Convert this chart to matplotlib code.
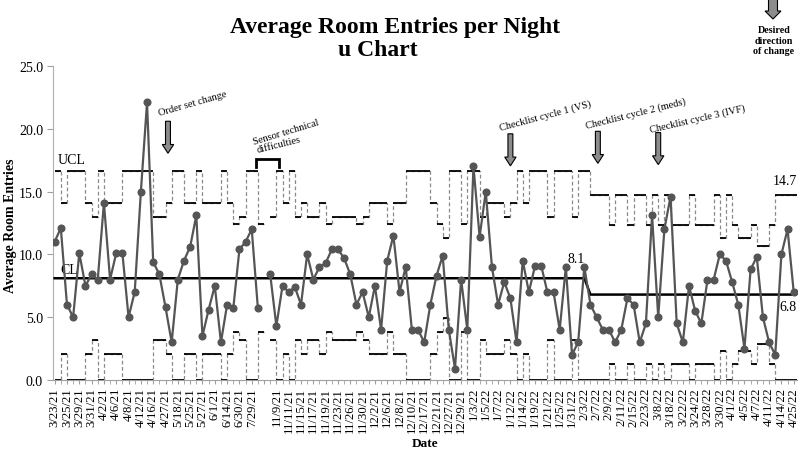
import numpy as np
import matplotlib
matplotlib.use("Agg")
import matplotlib.pyplot as plt
from matplotlib.patches import FancyArrow

# ---------------- data ----------------
tick_labels = ["3/23/21", "3/25/21", "3/29/21", "3/31/21", "4/2/21", "4/6/21", "4/8/21",
               "4/12/21", "4/16/21", "4/27/21", "5/18/21", "5/25/21", "5/27/21", "6/1/21",
               "6/14/21", "6/30/21", "7/29/21", "", "11/9/21", "11/11/21", "11/15/21",
               "11/17/21", "11/19/21", "11/23/21", "11/26/21", "11/30/21", "12/2/21",
               "12/6/21", "12/8/21", "12/10/21", "12/17/21", "12/21/21", "12/27/21",
               "12/29/21", "1/3/22", "1/5/22", "1/7/22", "1/12/22", "1/14/22", "1/19/22",
               "1/21/22", "1/25/22", "1/31/22", "2/3/22", "2/7/22", "2/9/22", "2/11/22",
               "2/15/22", "2/23/22", "3/8/22", "3/18/22", "3/22/22", "3/24/22", "3/28/22",
               "3/30/22", "4/1/22", "4/5/22", "4/7/22", "4/11/22", "4/14/22", "4/25/22"]

room_entries = [11.0, 12.1, 6.0, 5.0, 10.1, 7.5, 8.4, 8.0, 14.1, 8.0,
                10.1, 10.1, 5.0, 7.0, 15.0, 22.1, 9.4, 8.4, 5.8, 3.0,
                8.0, 9.5, 10.6, 13.1, 3.5, 5.6, 7.5, 3.0, 6.0, 5.7,
                10.4, 11.0, 12.0, 5.7, None, 8.4, 4.3, 7.5, 7.0, 7.4,
                6.0, 10.0, 8.0, 9.0, 9.3, 10.4, 10.4, 9.7, 8.4, 6.0,
                7.0, 5.0, 7.5, 4.0, 9.5, 11.5, 7.0, 9.0, 4.0, 4.0,
                3.0, 6.0, 8.3, 9.9, 4.0, 0.9, 8.0, 4.0, 17.0, 11.4,
                15.0, 9.0, 6.0, 7.8, 6.5, 3.0, 9.5, 7.0, 9.1, 9.1,
                7.0, 7.0, 4.0, 9.0, 2.0, 3.0, 9.0, 6.0, 5.0, 4.0,
                4.0, 3.0, 4.0, 6.5, 6.0, 3.0, 4.5, 13.1, 5.0, 12.0,
                14.6, 4.5, 3.0, 7.5, 5.5, 4.5, 8.0, 8.0, 10.0, 9.5,
                7.8, 6.0, 2.5, 8.8, 9.8, 5.0, 3.0, 2.0, 10.0, 12.0,
                7.0]

ucl = [16.6, 14.1, 16.6, 16.6, 16.6, 14.1, 13.0, 16.6, 14.1, 14.1,
       14.1, 16.6, 16.6, 16.6, 16.6, 16.6, 13.0, 13.0, 14.1, 16.6,
       16.6, 14.1, 14.1, 16.6, 14.1, 14.1, 14.1, 16.6, 14.1, 12.4,
       13.0, 16.6, 16.6, 12.4, None, 13.0, 16.6, 14.1, 16.6, 13.0,
       14.1, 13.0, 13.0, 14.1, 12.4, 13.0, 13.0, 13.0, 13.0, 12.4,
       13.0, 14.1, 14.1, 14.1, 12.4, 14.1, 14.1, 16.6, 16.6, 16.6,
       16.6, 14.1, 12.4, 11.3, 16.6, 16.6, 12.4, 16.6, 16.6, 13.0,
       14.1, 14.1, 14.1, 13.0, 14.1, 16.6, 14.1, 16.6, 16.6, 16.6,
       13.0, 16.6, 16.6, 16.6, 13.0, 16.6, 16.6, 14.7, 14.7, 14.7,
       12.3, 14.7, 14.7, 12.3, 14.7, 14.7, 12.3, 14.7, 12.3, 14.7,
       12.3, 12.3, 12.3, 14.7, 12.3, 12.3, 12.3, 14.7, 11.3, 14.7,
       12.3, 11.3, 11.3, 12.3, 10.7, 10.7, 12.3, 14.7, 14.7, 14.7,
       14.7]

lcl = [0.0, 2.1, 0.0, 0.0, 0.0, 2.1, 3.2, 0.0, 2.1, 2.1,
       2.1, 0.0, 0.0, 0.0, 0.0, 0.0, 3.2, 3.2, 2.1, 0.0,
       0.0, 2.1, 2.1, 0.0, 2.1, 2.1, 2.1, 0.0, 2.1, 3.8,
       3.2, 0.0, 0.0, 3.8, None, 3.2, 0.0, 2.1, 0.0, 3.2,
       2.1, 3.2, 3.2, 2.1, 3.8, 3.2, 3.2, 3.2, 3.2, 3.8,
       3.2, 2.1, 2.1, 2.1, 3.8, 2.1, 2.1, 0.0, 0.0, 0.0,
       0.0, 2.1, 3.8, 4.9, 0.0, 0.0, 3.8, 0.0, 0.0, 3.2,
       2.1, 2.1, 2.1, 3.2, 2.1, 0.0, 2.1, 0.0, 0.0, 0.0,
       3.2, 0.0, 0.0, 0.0, 3.2, 0.0, 0.0, 0.0, 0.0, 0.0,
       1.3, 0.0, 0.0, 1.3, 0.0, 0.0, 1.3, 0.0, 1.3, 0.0,
       1.3, 1.3, 1.3, 0.0, 1.3, 1.3, 1.3, 0.0, 2.3, 0.0,
       1.3, 2.3, 2.3, 1.3, 2.9, 2.9, 1.3, 0.0, 0.0, 0.0,
       0.0]

phase_cl = [8.1, 6.8]
phase_len = [87, 34]

# ---------------- figure ----------------
serif = ["Liberation Serif", "DejaVu Serif"]
plt.rcParams["font.family"] = serif

fig = plt.figure(figsize=(8.0, 4.56), dpi=100)
ax = fig.add_axes([0.066, 0.1645, 0.93, 0.6886])

n = len(room_entries)
x = np.arange(n)
y = np.array([np.nan if v is None else v for v in room_entries], dtype=float)
u = np.array([np.nan if v is None else v for v in ucl], dtype=float)
l = np.array([np.nan if v is None else v for v in lcl], dtype=float)
cl = np.concatenate([np.full(k, c) for c, k in zip(phase_cl, phase_len)])

xs = np.append(x, n)
for lim in (u, l):
    ys = np.append(lim, lim[-1])
    ax.plot(xs, ys, drawstyle="steps-post", color="#8a8a8a", lw=0.9,
            linestyle=(0, (3, 2)), zorder=2)
    ok = ~np.isnan(lim)
    ax.hlines(lim[ok], x[ok], x[ok] + 1, color="black", lw=1.3, zorder=3)

ax.plot(np.append(x, n), np.append(cl, cl[-1]), color="black", lw=1.8, zorder=4)
ax.plot(x, y, color="#555555", lw=1.6, marker="o", markersize=4.8,
        markerfacecolor="#555555", markeredgecolor="#555555", zorder=5)

ax.set_xlim(-0.3, 120.5)
ax.set_ylim(0, 25)
ax.set_yticks(np.arange(0, 26, 5))
ax.set_yticklabels([f"{v:.1f}" for v in np.arange(0, 26, 5)], fontsize=10)
ax.set_xticks(np.arange(0, n, 2))
ax.set_xticklabels(tick_labels, rotation=90, fontsize=9.2)
ax.set_xticks(np.arange(0, n, 1), minor=True)
ax.tick_params(axis="x", which="both", length=3, color="#a0a0a0", pad=2)
ax.tick_params(axis="y", length=4, color="#a0a0a0", pad=3)
for s in ("top", "right"):
    ax.spines[s].set_visible(False)
ax.spines["left"].set_color("#b0b0b0")
ax.spines["bottom"].set_color("#a0a0a0")

# labels on lines
ax.text(0.5, 17.0, "UCL", fontsize=10, ha="left", va="bottom")
ax.text(0.9, 8.25, "CL", fontsize=10, ha="left", va="bottom")
ax.text(84.6, 9.65, "8.1", fontsize=10, ha="center", va="center")
ax.text(120.5, 5.85, "6.8", fontsize=10, ha="right", va="center")
ax.text(120.5, 15.9, "14.7", fontsize=10, ha="right", va="center")

# annotations
notes = [("Order set change", 22.4, 22.05, 16),
         ("Sensor technical", 37.6, 19.75, 17),
         ("difficulties", 36.4, 18.8, 14),
         ("Checklist cycle 1 (VS)", 79.6, 21.05, 15),
         ("Checklist cycle 2 (meds)", 94.3, 21.3, 14),
         ("Checklist cycle 3 (IVF)", 104.4, 20.8, 13)]
for txt, tx, ty, rot in notes:
    ax.text(tx, ty, txt, fontsize=7.5, rotation=rot, rotation_mode="anchor",
            ha="center", va="center", clip_on=False)

arrows = [(18.4, 20.6), (74.0, 19.6), (88.2, 19.8), (98.0, 19.7)]
for ax_x, top in arrows:
    ax.add_patch(FancyArrow(ax_x, top, 0, -2.55, width=0.8, head_width=1.85,
                            head_length=0.7, length_includes_head=True,
                            facecolor="#8c8c8c", edgecolor="black", lw=0.8,
                            zorder=6, clip_on=False))

# sensor bracket
ax.plot([32.75, 32.75, 36.4, 36.4], [16.95, 17.6, 17.6, 16.95], color="black",
        lw=2.0, solid_joinstyle="miter", clip_on=False, zorder=6)

# desired direction arrow (figure coords)
fig.patches.append(FancyArrow(773 / 800, 1.0, 0, -20 / 456, width=9 / 800,
                              head_width=16 / 800, head_length=8 / 456,
                              length_includes_head=True, facecolor="#8c8c8c",
                              edgecolor="black", lw=0.8, transform=fig.transFigure,
                              figure=fig))
fig.text(774 / 800, 1 - 41 / 456, "Desired\ndirection\nof change", fontsize=7.2,
         fontweight="bold", ha="center", va="center", linespacing=1.2)

# titles
fig.text(395 / 800, 1 - 28 / 456, "Average Room Entries per Night", fontsize=17,
         fontweight="bold", ha="center", va="center")
fig.text(378 / 800, 1 - 50 / 456, "u Chart", fontsize=17, fontweight="bold",
         ha="center", va="center")
fig.text(425 / 800, 1 - 444 / 456, "Date", fontsize=9.5, fontweight="bold",
         ha="center", va="center")
fig.text(11 / 800, 1 - 226 / 456, "Average Room Entries", fontsize=10,
         fontweight="bold", ha="center", va="center", rotation=90)

fig.savefig("out.png", dpi=100)
